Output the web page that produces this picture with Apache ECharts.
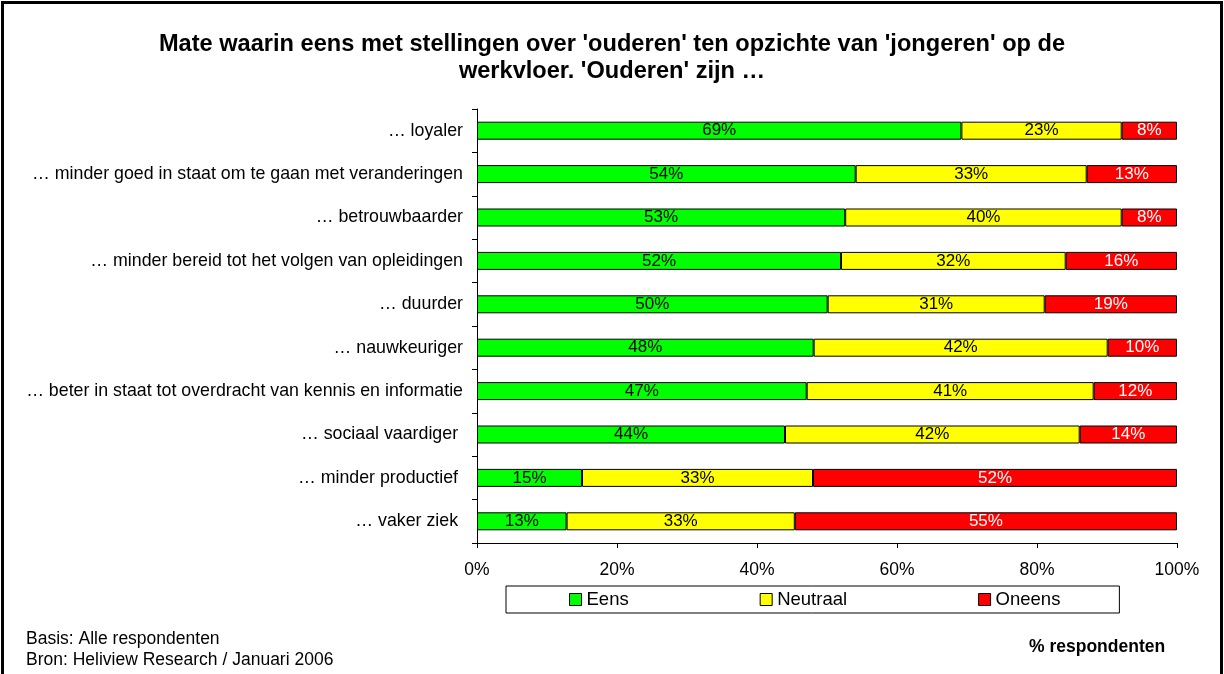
<!DOCTYPE html>
<html>
<head>
<meta charset="utf-8">
<script src="https://cdn.jsdelivr.net/npm/echarts@6/dist/echarts.min.js"></script>
<style>
  html, body { margin: 0; padding: 0; background: #fff; }
  #chart { width: 1224px; height: 674px; }
</style>
</head>
<body>
<div id="chart"></div>
<script>
// Statements, top to bottom
const categories = [
  '… loyaler',
  '… minder goed in staat om te gaan met veranderingen',
  '… betrouwbaarder',
  '… minder bereid tot het volgen van opleidingen',
  '… duurder',
  '… nauwkeuriger',
  '… beter in staat tot overdracht van kennis en informatie',
  '… sociaal vaardiger ',
  '… minder productief ',
  '… vaker ziek '
];

// Share of respondents (%) per answer
const eens     = [69.2, 54.1, 52.6, 52.0, 50.1, 48.1, 47.1, 44.0, 15.0, 12.8];
const neutraal = [22.9, 33.0, 39.5, 32.1, 31.0, 42.0, 41.0, 42.1, 33.0, 32.6];
const oneens   = [7.9, 12.9, 7.9, 15.9, 18.9, 9.9, 11.9, 13.9, 52.0, 54.6];

const xTicks = [0, 20, 40, 60, 80, 100];

const FONT = 'Liberation Sans, Arial, sans-serif';

function makeSeries(name, data, color, labelColor) {
  return {
    name: name,
    type: 'bar',
    stack: 'total',
    data: data,
    barWidth: 18,
    itemStyle: { color: color, borderColor: '#000', borderWidth: 1 },
    label: {
      show: true,
      position: 'inside',
      color: labelColor,
      fontFamily: FONT,
      fontSize: 17,
      formatter: p => Math.round(p.value) + '%'
    },
    emphasis: { disabled: true }
  };
}

const chart = echarts.init(document.getElementById('chart'), null, { renderer: 'canvas' });

chart.setOption({
  animation: false,
  backgroundColor: '#fff',
  title: {
    text: "Mate waarin eens met stellingen over 'ouderen' ten opzichte van 'jongeren' op de\nwerkvloer. 'Ouderen' zijn …",
    left: 'center',
    top: 26,
    textStyle: {
      fontFamily: FONT,
      fontSize: 23.6,
      fontWeight: 'bold',
      color: '#000',
      lineHeight: 27,
      align: 'center'
    }
  },
  legend: {
    data: ['Eens', 'Neutraal', 'Oneens'],
    left: 506,
    top: 586,
    orient: 'horizontal',
    padding: [3, 59, 3, 63],
    itemGap: 131,
    itemWidth: 12,
    itemHeight: 12,
    icon: 'rect',
    borderColor: '#000',
    borderWidth: 1,
    selectedMode: false,
    textStyle: { fontFamily: FONT, fontSize: 18.5, lineHeight: 21, color: '#000' },
    itemStyle: { borderColor: '#000', borderWidth: 1 }
  },
  grid: { left: 477, right: 47, top: 109, bottom: 131, containLabel: false },
  xAxis: {
    type: 'value',
    min: xTicks[0],
    max: xTicks[xTicks.length - 1],
    interval: 20,
    axisLine: { show: true, lineStyle: { color: '#000', width: 1 } },
    axisTick: { show: true, length: 5, lineStyle: { color: '#000' } },
    splitLine: { show: false },
    axisLabel: {
      fontFamily: FONT, fontSize: 17.5, color: '#000', margin: 18,
      formatter: v => v + '%'
    }
  },
  yAxis: {
    type: 'category',
    inverse: true,
    data: categories,
    axisLine: { show: true, lineStyle: { color: '#000', width: 1 } },
    axisTick: { show: true, length: 5, lineStyle: { color: '#000' } },
    axisLabel: { fontFamily: FONT, fontSize: 17.8, color: '#000', margin: 14 }
  },
  series: [
    makeSeries('Eens', eens, '#00ff00', '#000'),
    makeSeries('Neutraal', neutraal, '#ffff00', '#000'),
    makeSeries('Oneens', oneens, '#ff0000', '#fff')
  ],
  graphic: [
    {
      type: 'rect',
      shape: { x: 2.5, y: 2.5, width: 1219, height: 700 },
      style: { fill: 'none', stroke: '#000', lineWidth: 3 },
      silent: true
    },
    {
      type: 'text', x: 26, y: 639,
      style: { text: 'Basis: Alle respondenten', font: '17.5px ' + FONT, fill: '#000', textVerticalAlign: 'middle' }
    },
    {
      type: 'text', x: 26, y: 660,
      style: { text: 'Bron: Heliview Research / Januari 2006', font: '17.5px ' + FONT, fill: '#000', textVerticalAlign: 'middle' }
    },
    {
      type: 'text', x: 1029, y: 647,
      style: { text: '% respondenten', font: 'bold 17.5px ' + FONT, fill: '#000', textVerticalAlign: 'middle' }
    }
  ]
});
</script>
</body>
</html>
